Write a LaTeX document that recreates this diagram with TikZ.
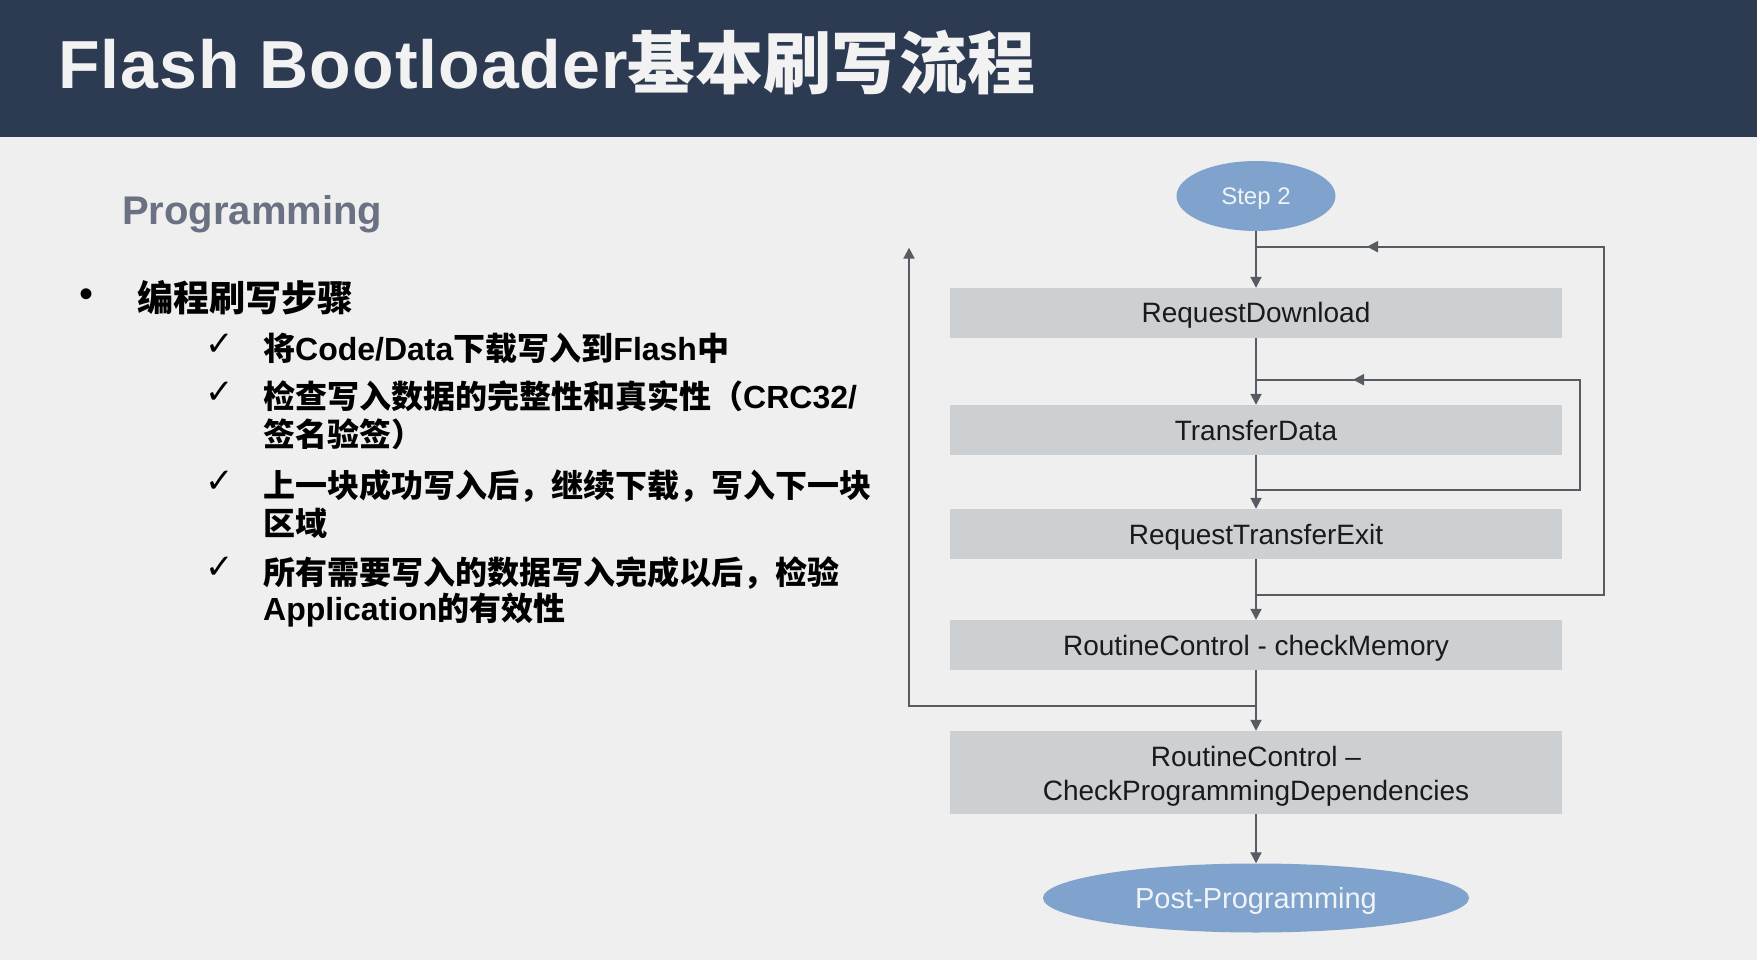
\documentclass[tikz,border=0pt]{standalone}
\usepackage{fontspec}
\setmainfont{Liberation Sans}
\newfontfamily\cjk{Noto Sans CJK SC}
\newfontfamily\symf{DejaVu Sans}
\usetikzlibrary{shapes.geometric,arrows.meta}
\definecolor{bgc}{HTML}{EFEFEF}
\definecolor{hdrc}{HTML}{2C3B52}
\definecolor{titlec}{HTML}{F2F2F2}
\definecolor{progc}{HTML}{6A7182}
\definecolor{boxc}{HTML}{CDD0D3}
\definecolor{ellc}{HTML}{7FA3CD}
\definecolor{ellt}{HTML}{F0F3F7}
\definecolor{linec}{HTML}{565C61}
\definecolor{txtc}{HTML}{1A1A1A}
\newcommand\zht[1]{{\cjk #1}}
\begin{document}
\begin{tikzpicture}[x=1pt,y=-1pt,
  box/.style={rectangle, fill=boxc, minimum width=612pt, minimum height=50pt, inner sep=0pt, text=txtc, align=center, font=\fontsize{28}{34}\selectfont, text height=20pt, text depth=0pt},
  term/.style={ellipse, fill=ellc, inner sep=0pt, text=ellt, text depth=0pt},
  conn/.style={draw=linec, line width=2pt},
  arr/.style={conn, -{Triangle[length=11pt,width=11pt]}},
  lt/.style={anchor=base west, inner sep=0pt, text=black, font=\fontsize{32}{38}\selectfont\bfseries},
  ck/.style={anchor=center, inner sep=0pt, text=black, font=\symf\fontsize{34}{34}\selectfont}
]
\useasboundingbox (0,0) rectangle (1757,960);
\fill[bgc] (0,0) rectangle (1757,960);
\fill[hdrc] (0,0) rectangle (1757,137);
\node[anchor=base west, inner sep=0pt, text=titlec, font=\fontsize{68}{80}\selectfont\bfseries] (title) at (58,89) {{\addfontfeature{LetterSpace=1.5}Flash Bootloader}\zht{基本刷写流程}};

% left column
\node[anchor=base west, inner sep=0pt, text=progc, font=\fontsize{40}{46}\selectfont\bfseries] (prog) at (122,224.5) {Programming};
\node[anchor=center, inner sep=0pt, font=\fontsize{40}{44}\selectfont] (bul) at (87,298) {•};
\node[anchor=base west, inner sep=0pt, text=black, font=\fontsize{36}{42}\selectfont\bfseries] (head) at (137,312) {\zht{编程刷写步骤}};

\node[ck] (c1) at (220,345) {✓};
\node[lt] (i1) at (263,360) {\zht{将}Code/Data\zht{下载写入到}Flash\zht{中}};
\node[ck] (c2) at (220,393) {✓};
\node[lt] (i2a) at (263,408) {\zht{检查写入数据的完整性和真实性（}CRC32/};
\node[lt] (i2b) at (263,446) {\zht{签名验签）}};
\node[ck] (c3) at (220,482) {✓};
\node[lt] (i3a) at (263,497) {\zht{上一块成功写入后，继续下载，写入下一块}};
\node[lt] (i3b) at (263,535) {\zht{区域}};
\node[ck] (c4) at (220,568) {✓};
\node[lt] (i4a) at (263,584) {\zht{所有需要写入的数据写入完成以后，检验}};
\node[lt] (i4b) at (263,620) {Application\zht{的有效性}};

% flowchart
\node[term, minimum width=159pt, minimum height=70pt, font=\fontsize{24}{28}\selectfont, text height=17.2pt] (s2) at (1256,196) {Step 2};
\node[box] (rd) at (1256,313) {RequestDownload};
\node[box] (td) at (1256,430) {TransferData};
\node[box] (rte) at (1256,534) {RequestTransferExit};
\node[box] (rc) at (1256,645) {RoutineControl - checkMemory};
\node[box, minimum height=83pt, text height=58pt, text depth=2pt] (cpd) at (1256,772.5) {RoutineControl --\\CheckProgrammingDependencies};
\node[term, minimum width=426pt, minimum height=69pt, font=\fontsize{29}{32}\selectfont, text height=20.8pt] (post) at (1256,898) {Post-Programming};

\draw[arr] (s2) -- (rd);
\draw[arr] (rd) -- (td);
\draw[arr] (td) -- (rte);
\draw[arr] (rte) -- (rc);
\draw[arr] (rc) -- (cpd);
\draw[arr] (cpd) -- (post);

% outer loop
\coordinate (j1) at (1256,595);
\coordinate (j1r) at (1604,595);
\coordinate (j1t) at (1604,246.7);
\coordinate (a1) at (1367,246.7);
\coordinate (j1e) at (1256,246.7);
\draw[conn] (j1) -- (j1r) -- (j1t) -- (j1e);
\draw[arr] (j1t) -- (a1);

% inner loop
\coordinate (j2) at (1256,490.3);
\coordinate (j2r) at (1579.5,490.3);
\coordinate (j2t) at (1579.5,379.7);
\coordinate (a2) at (1353,379.7);
\coordinate (j2e) at (1256,379.7);
\draw[conn] (j2) -- (j2r) -- (j2t) -- (j2e);
\draw[arr] (j2t) -- (a2);

% left loop
\coordinate (j3) at (1256,706);
\coordinate (j3l) at (909,706);
\coordinate (j3t) at (909,247.7);
\draw[arr] (j3) -- (j3l) -- (j3t);
\end{tikzpicture}
\end{document}
